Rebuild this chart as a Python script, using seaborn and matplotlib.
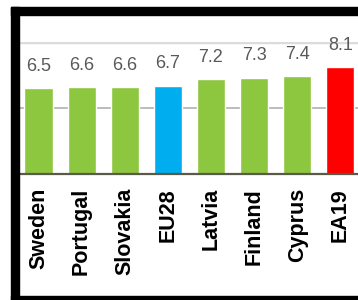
import matplotlib
matplotlib.use('Agg')
import pandas as pd
import seaborn as sns
import matplotlib.pyplot as plt
from matplotlib.patches import Rectangle

countries = ['Sweden', 'Portugal', 'Slovakia', 'EU28', 'Latvia', 'Finland', 'Cyprus', 'EA19']
values = [6.5, 6.6, 6.6, 6.7, 7.2, 7.3, 7.4, 8.1]
bar_colors = ['#8dc63f', '#8dc63f', '#8dc63f', '#00aeef',
              '#8dc63f', '#8dc63f', '#8dc63f', '#ff0000']
grid_levels = [5, 10]

sns.set_style('white')
plt.rcParams['font.family'] = ['Liberation Sans', 'DejaVu Sans']

df = pd.DataFrame({'country': countries, 'value': values})

fig = plt.figure(figsize=(3.58, 3.0), dpi=100)
ax = fig.add_axes([19 / 358, 126 / 300, 339 / 358, 132 / 300])

sns.barplot(data=df, x='country', y='value', hue='country', palette=bar_colors,
            legend=False, width=0.65, saturation=1, ax=ax)

ax.set_ylim(0, 10)
ax.set_xlim(-0.452, 7.41)
ax.set_axisbelow(True)
ax.set_yticks(grid_levels)
ax.yaxis.grid(True)
gl = ax.get_ygridlines()
gl[0].set_color('#b0b0b0')
gl[0].set_linewidth(1.2)
gl[1].set_color('#dcdcdc')
gl[1].set_linewidth(2.5)
ax.tick_params(axis='y', length=0, labelleft=False)

for side in ['left', 'right', 'top']:
    ax.spines[side].set_visible(False)
ax.spines['bottom'].set_color('#5a5a4a')
ax.spines['bottom'].set_linewidth(1.6)

ax.set_xlabel('')
ax.set_ylabel('')
ax.tick_params(axis='x', which='major', length=0, pad=10, labelsize=15.5,
               labelrotation=90, labelcolor='black')
for t in ax.get_xticklabels():
    t.set_fontweight('bold')
ax.set_xticks([i + 0.5 for i in range(len(countries) - 1)], minor=True)
ax.tick_params(axis='x', which='minor', length=3.5, width=1,
               color='#6a6a6a', direction='out')

for c in ax.containers:
    ax.bar_label(c, fmt='%.1f', padding=9.5, color='#595959', fontsize=13)

# black frame around the chart
frame = dict(transform=fig.transFigure, color='black', clip_on=False)
fig.patches.extend([
    Rectangle((11 / 358, 0), 8 / 358, 293 / 300, **frame),
    Rectangle((11 / 358, 285 / 300), 347 / 358, 8 / 300, **frame),
    Rectangle((11 / 358, 0), 347 / 358, 4 / 300, **frame),
])

fig.savefig('out.png', dpi=100)
